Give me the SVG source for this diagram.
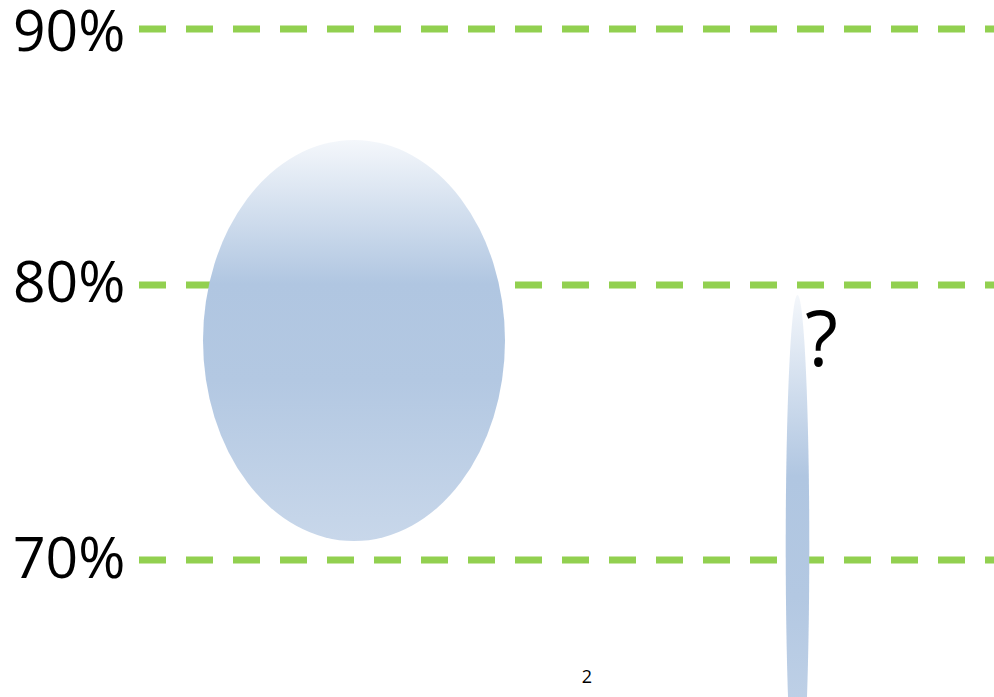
<svg xmlns="http://www.w3.org/2000/svg" width="994" height="697" viewBox="0 0 994 697">
<style>
.grid{stroke:#92d050;stroke-width:7;stroke-dasharray:27 20;fill:none}
.lbl{font-family:"Open Sans","DejaVu Sans",sans-serif;fill:#000}
</style>
<defs>
<linearGradient id="g" x1="0" y1="0" x2="0" y2="1">
<stop offset="0" stop-color="#f4f7fb"/>
<stop offset="0.36" stop-color="#b0c6e1"/>
<stop offset="0.6" stop-color="#b3c8e2"/>
<stop offset="1" stop-color="#c8d7ea"/>
</linearGradient>
</defs>
<rect width="994" height="697" fill="#fff"/>
<g id="gridlines">
<line class="grid" x1="139" y1="29" x2="994" y2="29"/>
<line class="grid" x1="139" y1="285" x2="994" y2="285"/>
<line class="grid" x1="139" y1="560" x2="994" y2="560"/>
</g>
<g id="labels">
<text class="lbl" x="13" y="51" font-size="57">90%</text>
<text class="lbl" x="13" y="302" font-size="57">80%</text>
<text class="lbl" x="13" y="578" font-size="57">70%</text>
</g>
<g id="big-ellipse">
<ellipse cx="354" cy="340.5" rx="151" ry="200.5" fill="url(#g)"/>
</g>
<g id="thin-ellipse">
<ellipse cx="797.5" cy="547" rx="11.8" ry="252" fill="url(#g)"/>
<text class="lbl" x="805" y="366" font-size="76">?</text>
</g>
<text class="lbl" x="587" y="683" font-size="18" text-anchor="middle">2</text>
</svg>
